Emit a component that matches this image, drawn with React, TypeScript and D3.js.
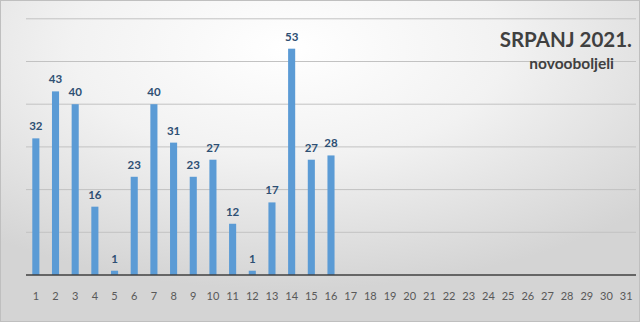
import React from "react";
import * as d3 from "d3";

const days: string[] = Array.from({ length: 31 }, (_, i) => String(i + 1));
const values: number[] = [32, 43, 40, 16, 1, 23, 40, 31, 23, 27, 12, 1, 17, 53, 27, 28];
const gridTicks: number[] = [0, 10, 20, 30, 40, 50, 60];
const title = "SRPANJ 2021.";
const subtitle = "novooboljeli";

const W = 640;
const H = 322;
const left = 26;
const right = 636;
const top = 18.8;
const bottom = 275;

export default function App() {
  const x = d3.scaleBand<string>().domain(days).range([left, right]).paddingInner(0.64).paddingOuter(0.32);
  const y = d3.scaleLinear().domain([0, 60]).range([bottom, top]);
  const font = "Lato, 'Open Sans', sans-serif";
  return (
    <svg width={W} height={H} style={{ position: "absolute", left: 0, top: 0 }}>
      <defs>
        <radialGradient id="bg" cx="0.45" cy="0.15" r="0.75">
          <stop offset="0" stopColor="#ffffff" />
          <stop offset="0.45" stopColor="#f2f2f2" />
          <stop offset="1" stopColor="#d4d4d4" />
        </radialGradient>
      </defs>
      <rect x={0} y={0} width={W} height={H} fill="url(#bg)" />
      <rect x={0.5} y={0.5} width={W - 1} height={H - 1} fill="none" stroke="#bfbfbf" />
      {gridTicks.slice(1).map((t) => (
        <line key={t} x1={left} x2={right} y1={y(t)} y2={y(t)} stroke="#c2c2c2" strokeWidth={1} />
      ))}
      {values.map((v, i) => (
        <rect key={i} x={x(days[i])!} width={x.bandwidth()} y={y(v)} height={bottom - y(v)} fill="#5b9bd5" />
      ))}
      {values.map((v, i) => (
        <text key={"l" + i} x={x(days[i])! + x.bandwidth() / 2} y={y(v) - 8} textAnchor="middle"
          fontFamily={font} fontWeight="bold" fontSize={11.5} fill="#2e4f73">{v}</text>
      ))}
      <line x1={left} x2={right} y1={bottom} y2={bottom} stroke="#404040" strokeWidth={1.5} />
      {days.map((d) => (
        <text key={"t" + d} x={x(d)! + x.bandwidth() / 2} y={300} textAnchor="middle"
          fontFamily={font} fontSize={11} fill="#595959">{d}</text>
      ))}
      <text x={632} y={47} textAnchor="end" fontFamily={font} fontWeight="bold" fontSize={20.5} fill="#404040">{title}</text>
      <text x={614} y={69} textAnchor="end" fontFamily={font} fontWeight="bold" fontSize={15.5} fill="#404040">{subtitle}</text>
    </svg>
  );
}
